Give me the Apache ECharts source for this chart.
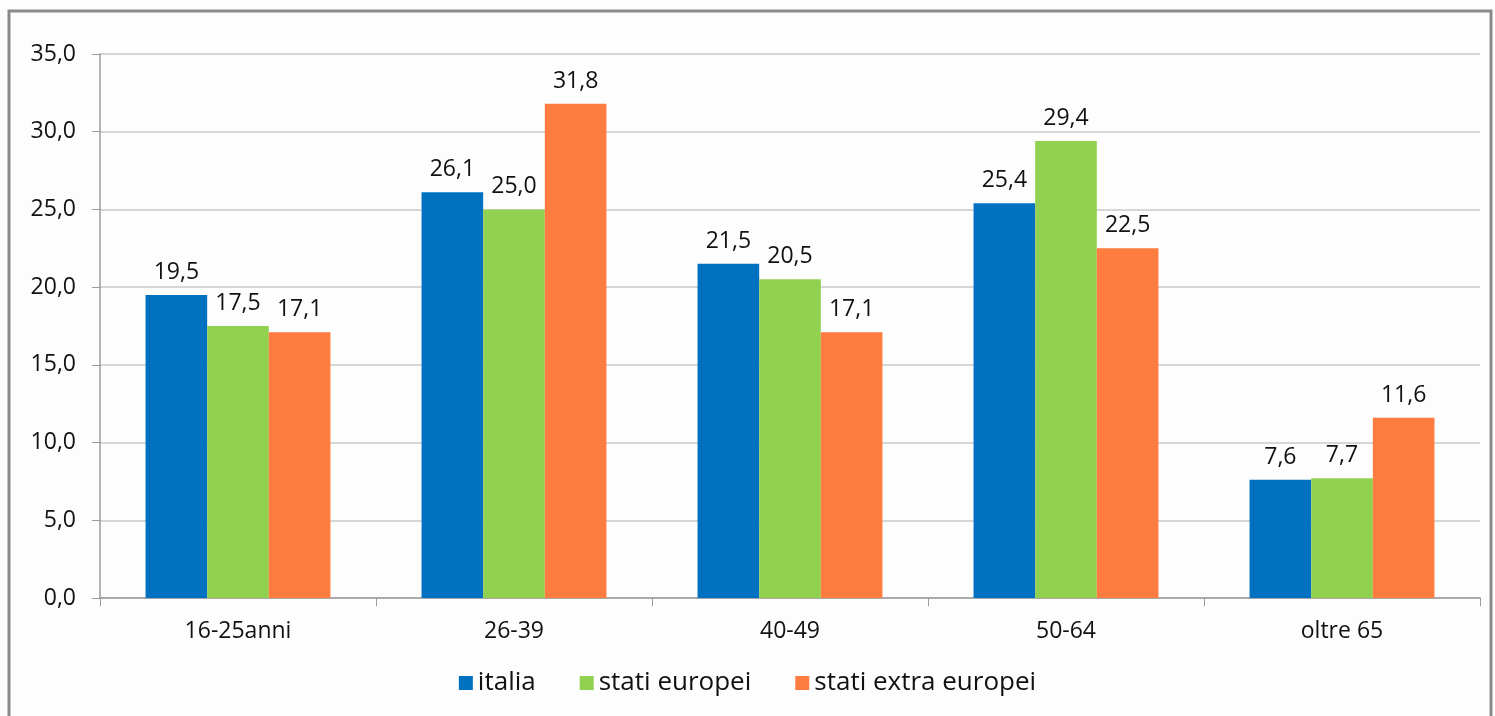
<!DOCTYPE html>
<html>
<head>
<meta charset="utf-8">
<script src="https://cdn.jsdelivr.net/npm/echarts@6/dist/echarts.min.js"></script>
<style>
  html, body { margin: 0; padding: 0; background: #fdfdfd; }
  #chart { width: 1495px; height: 716px; }
</style>
</head>
<body>
<div id="chart"></div>
<script>
// fasce d'età
const categories = ['16-25anni', '26-39', '40-49', '50-64', 'oltre 65']
const italia = [19.5, 26.1, 21.5, 25.4, 7.6]
const statiEuropei = [17.5, 25.0, 20.5, 29.4, 7.7]
const statiExtraEuropei = [17.1, 31.8, 17.1, 22.5, 11.6]

const fontFamily = '"Open Sans", "Noto Sans", sans-serif'
const fmt = v => Number(v).toFixed(1).replace('.', ',')

const chart = echarts.init(document.getElementById('chart'))

const mkSeries = (name, data, color) => ({
  name,
  type: 'bar',
  data,
  barGap: 0,
  barCategoryGap: '33%',
  itemStyle: { color },
  label: {
    show: true,
    position: 'top',
    distance: 11,
    color: '#111',
    fontSize: 23,
    fontFamily,
    formatter: p => fmt(p.value)
  }
})

chart.setOption({
  backgroundColor: '#fdfdfd',
  animation: false,
  graphic: [{
    type: 'rect',
    shape: { x: 9, y: 11, width: 1482, height: 710 },
    style: { fill: 'none', stroke: '#8a8a8a', lineWidth: 3 },
    silent: true
  }],
  grid: { left: 100, right: 15, top: 54, bottom: 118 },
  legend: {
    bottom: 15,
    left: 'center',
    itemWidth: 14,
    itemHeight: 14,
    itemGap: 44,
    icon: 'rect',
    textStyle: { fontSize: 26, color: '#111', fontFamily }
  },
  xAxis: {
    type: 'category',
    data: categories,
    axisLine: { lineStyle: { color: '#9a9a9a', width: 1.5 } },
    axisTick: { show: true, length: 8, lineStyle: { color: '#9a9a9a' } },
    axisLabel: { fontSize: 23, color: '#111', margin: 22, fontFamily }
  },
  yAxis: {
    type: 'value',
    min: 0,
    max: 35,
    interval: 5,
    axisLine: { show: true, lineStyle: { color: '#9a9a9a', width: 1.5 } },
    axisTick: { show: true, length: 8, lineStyle: { color: '#9a9a9a' } },
    splitLine: { lineStyle: { color: '#c8c8c8', width: 1.5 } },
    axisLabel: { fontSize: 23, color: '#111', margin: 24, fontFamily, formatter: fmt }
  },
  series: [
    mkSeries('italia', italia, '#0070c0'),
    mkSeries('stati europei', statiEuropei, '#92d050'),
    mkSeries('stati extra europei', statiExtraEuropei, '#ff7c40')
  ]
})
</script>
</body>
</html>
